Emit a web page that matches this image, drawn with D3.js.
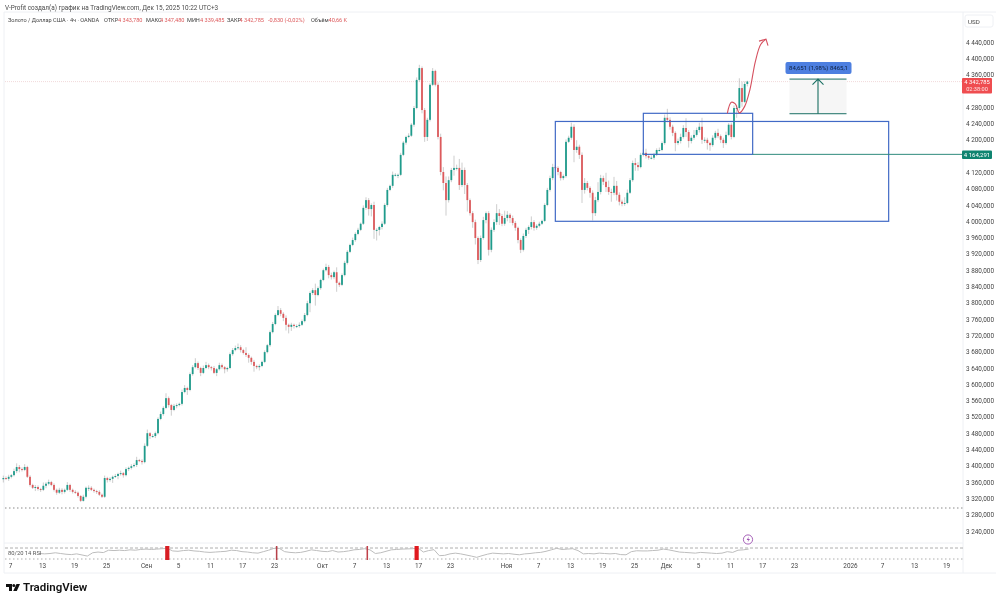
<!DOCTYPE html>
<html>
<head lang="ru">
    <meta charset="UTF-8">
    <title>XAUUSD 4h</title>
    <style>
        html, body { margin: 0; background: #fff; }
        text { font-family: Roboto, "Noto Sans", sans-serif; }
        svg { filter: blur(0.35px); }
    </style>
</head>
<body>
<div id="chart"></div>
<script src="https://cdnjs.cloudflare.com/ajax/libs/d3/7.8.5/d3.min.js"></script>
<script>
// closes of 8h steps, open = previous close
var closes = [
    3370,3368,3373,3377,3387,3397,3392,3390,3397,3373,3353,3346,3348,3343,3341,3351,3356,3360,3353,3341,
    3334,3341,3336,3341,3353,3341,3336,3334,3326,3314,3324,3346,3346,3341,3338,3336,3329,3324,3370,3365,
    3368,3373,3375,3380,3382,3377,3392,3395,3399,3402,3414,3412,3409,3449,3480,3473,3473,3480,3515,3527,
    3542,3566,3549,3537,3547,3549,3552,3581,3591,3586,3625,3642,3652,3640,3628,3640,3647,3642,3640,3628,
    3637,3647,3642,3637,3640,3674,3684,3689,3691,3684,3677,3672,3665,3655,3645,3642,3645,3655,3679,3696,
    3728,3748,3770,3782,3773,3763,3746,3741,3746,3743,3743,3746,3755,3770,3799,3824,3831,3819,3836,3856,
    3880,3888,3868,3863,3875,3849,3844,3868,3898,3925,3942,3954,3969,3979,3994,4033,4052,4030,4040,3979,
    3979,3986,3994,4040,4077,4087,4114,4114,4114,4163,4193,4207,4210,4237,4278,4347,4376,4273,4207,4249,
    4335,4369,4335,4207,4121,4094,4052,4101,4126,4131,4131,4089,4126,4089,4052,4020,3998,3959,3905,3959,
    4003,4020,3930,3979,3998,4020,4013,3994,4008,4016,4008,3996,3984,3954,3930,3964,3979,3986,3998,3984,
    3989,3994,4001,4040,4077,4106,4133,4131,4121,4106,4111,4195,4205,4232,4175,4183,4163,4077,4094,4082,
    4070,4020,4052,4072,4106,4097,4084,4072,4070,4087,4065,4048,4043,4045,4070,4101,4143,4138,4133,4163,
    4168,4160,4156,4156,4163,4175,4175,4192,4254,4249,4232,4217,4192,4197,4207,4229,4219,4197,4205,4212,
    4224,4232,4200,4200,4192,4187,4205,4217,4209,4200,4192,4212,4237,4207,4278,4278,4327,4293,4337,4343
];
var wickUp = [
    6,4,5,3,6,9,5,4,7,3,4,3,5,4,3,8,4,6,3,4,
    3,5,4,3,7,3,3,4,3,2,5,3,6,4,3,3,4,3,6,3,
    4,3,5,3,6,3,4,3,5,4,8,3,4,6,9,3,5,4,4,6,
    4,12,4,3,5,4,3,6,7,3,4,5,12,4,3,6,8,4,3,5,
    3,6,4,3,3,4,5,6,9,5,3,14,4,3,5,3,4,3,4,3,
    4,5,4,10,5,4,6,3,5,3,4,6,4,5,6,4,5,16,4,3,
    4,8,5,6,4,12,3,4,5,4,3,6,4,5,3,6,7,5,4,8,
    4,3,6,4,5,3,8,4,3,5,4,3,6,4,5,6,8,4,5,5,
    4,7,3,6,8,12,16,9,5,30,8,22,18,6,5,4,5,6,4,6,
    8,4,5,6,7,22,10,5,18,9,4,6,5,3,4,6,5,4,14,5,
    4,5,3,4,5,6,8,5,4,3,4,6,5,10,6,16,5,6,12,5,
    4,6,8,24,8,6,22,16,8,22,12,6,5,14,8,5,6,12,7,5,
    8,10,5,6,5,4,6,4,8,22,6,5,4,6,8,7,24,5,6,12,
    6,10,22,6,5,3,6,5,10,4,5,8,4,5,6,8,24,16,6,2
];
var wickDown = [
    8,3,5,4,3,5,8,4,3,3,4,3,8,4,5,3,6,4,3,4,
    5,3,6,4,3,5,4,3,4,3,2,4,8,3,4,5,3,3,3,6,
    4,10,3,8,4,6,3,5,4,3,5,3,6,3,3,7,4,5,3,3,
    4,3,6,14,3,6,3,4,3,12,3,4,3,5,8,3,3,5,6,3,
    8,3,5,10,6,3,4,3,4,6,4,5,12,7,14,5,8,3,3,3,
    4,3,3,3,6,8,14,16,10,6,5,4,3,3,3,22,5,26,3,4,
    3,3,8,6,5,22,5,3,3,4,3,3,4,3,3,3,5,16,18,22,
    26,14,6,3,4,3,5,4,8,3,3,5,3,3,5,3,4,8,12,10,
    4,3,4,6,8,18,38,6,5,14,6,12,5,22,28,6,14,16,10,5,
    4,8,14,6,5,7,22,6,5,8,12,6,7,8,8,4,5,10,6,7,
    5,4,3,3,3,4,5,6,8,6,5,4,3,5,30,7,10,32,9,6,
    12,18,7,5,6,8,12,7,22,6,14,9,6,5,3,3,4,14,9,3,
    4,6,5,4,5,3,4,3,4,6,7,8,20,5,6,4,12,16,6,5,
    4,6,10,8,16,14,4,5,5,8,12,4,3,6,3,24,6,12,3,6
];
var rsiValues = [
    50,48,50,54,50,46,44,48,42,36,54,58,55,68,66,68,66,70,68,72,
    74,72,74,76,78,64,62,66,68,64,62,58,56,58,60,62,68,66,60,58,
    54,52,60,68,78,78,60,56,54,56,62,70,66,62,60,66,58,60,64,70,
    72,76,70,50,54,62,70,72,74,75,76,80,58,66,71,38,40,48,52,48,
    42,36,29,38,46,52,50,48,50,46,43,48,50,54,56,62,70,78,72,74,
    76,66,48,50,48,52,50,48,50,44,43,60,65,64,64,66,68,74,70,64,
    58,56,54,52,56,54,52,50,52,60,56,68,70,74
];
// overbought RSI alerts: first bar and length in bars
var alertBars = [117, 200, 268, 304];
var alertSpans = [3, 1, 1, 3];
var alertColors = ["#d81e24", "#b7414a", "#c0404a", "#e0191f"];

// 4320 and 4160 sit behind the price labels in the picture
var priceTicks = d3.range(3240, 4441, 40).filter(function(v) { return v != 4320 && v != 4160; });
var timeTickDates = ["2025-08-07","2025-08-13","2025-08-19","2025-08-25","2025-09-01","2025-09-05","2025-09-11","2025-09-17","2025-09-23","2025-10-01","2025-10-07","2025-10-13","2025-10-17","2025-10-23","2025-11-03","2025-11-07","2025-11-13","2025-11-19","2025-11-25","2025-12-01","2025-12-05","2025-12-11","2025-12-17","2025-12-23","2026-01-01","2026-01-07","2026-01-13","2026-01-19"];
var timeTickLabels = ["7","13","19","25","Сен","5","11","17","23","Окт","7","13","17","23","Ноя","7","13","19","25","Дек","5","11","17","23","2026","7","13","19"];

var lastPrice = 4342.785, supportLevel = 4164.291;
var boxLarge = {from: 4245, to: 4000, barA: 409, barB: 659};
var boxSmall = {from: 4265, to: 4164.291, barA: 475, barB: 557};
var measureFrom = 4264, measureTo = 4349;

var width = 1000, height = 602;
var teal = "#1f9c8c", red = "#dd5a5c", blue = "#416ac6", darkTeal = "#1a6f63";

var svg = d3.select("#chart").append("svg")
    .attr("width", width)
    .attr("height", height)
    .style("display", "block");

// 4h bars since Aug 7, weekends do not count
var startDay = new Date(Date.UTC(2025, 7, 7));
function barOf(iso) {
    var days = d3.utcDays(startDay, new Date(iso + "T00:00:00Z"));
    return days.filter(function(d) { return d.getUTCDay() % 6 != 0; }).length * 6;
}

var x = d3.scaleLinear().domain([0, 750]).range([10, 1010]);
var y = d3.scaleLinear().domain([3240, 4440]).range([531, 42]);
var rsiY = d3.scaleLinear().domain([20, 80]).range([559, 548]);

function fmt(v) {
    var s = d3.format(".3f")(v).replace(".", ",");
    return s.length > 7 ? s.slice(0, 1) + " " + s.slice(1) : s;
}

// panel frame
svg.append("g").selectAll("line")
    .data([[4,12,996,12],[4,12,4,573],[963,12,963,573],[4,573,996,573],[4,543,963,543]])
    .enter().append("line")
    .attr("x1", function(d) { return d[0]; }).attr("y1", function(d) { return d[1]; })
    .attr("x2", function(d) { return d[2]; }).attr("y2", function(d) { return d[3]; })
    .attr("stroke", "#eef0f4").attr("stroke-width", 1);

// header
svg.append("text").attr("x", 5).attr("y", 9.5).attr("font-size", 6.4).attr("fill", "#4a4a4a")
    .text("V-Profit создал(а) график на TradingView.com, Дек 15, 2025 10:22 UTC+3");

var legendParts = [
    [8, "Золото / Доллар США · 4ч · OANDA", "#444"],
    [104, "ОТКР", "#444"], [118, "4 343,780", red],
    [146, "МАКС", "#444"], [160, "4 347,480", red],
    [187, "МИН", "#444"], [200, "4 339,485", red],
    [227, "ЗАКР", "#444"], [239.5, "4 342,785", red],
    [268, "-0,830 (-0,02%)", red],
    [311, "Объём", "#444"], [328.5, "40,66 K", red]
];
svg.append("g").selectAll("text").data(legendParts).enter().append("text")
    .attr("x", function(d) { return d[0]; }).attr("y", 22)
    .attr("font-size", 5.6).attr("fill", function(d) { return d[2]; })
    .text(function(d) { return d[1]; });

// last price dotted line and the dashed one at the bottom of the pane
svg.append("line").attr("x1", 5).attr("x2", 963).attr("y1", y(lastPrice)).attr("y2", y(lastPrice))
    .attr("stroke", "#eccfd0").attr("stroke-width", 0.8).attr("stroke-dasharray", "1,1");
svg.append("line").attr("x1", 5).attr("x2", 963).attr("y1", 508).attr("y2", 508)
    .attr("stroke", "#8a8a8a").attr("stroke-width", 1).attr("stroke-dasharray", "1.5,2.5");

// candles
var candles = closes.map(function(c, i) {
    var o = i ? closes[i - 1] : c - 3;
    return {bar: i * 2 - 5, o: o, c: c, hi: Math.max(o, c) + wickUp[i], lo: Math.min(o, c) - wickDown[i]};
});
var candle = svg.append("g").selectAll("g").data(candles).enter().append("g");
candle.append("line")
    .attr("x1", function(d) { return x(d.bar); }).attr("x2", function(d) { return x(d.bar); })
    .attr("y1", function(d) { return y(d.hi); }).attr("y2", function(d) { return y(d.lo); })
    .attr("stroke", "#9a9a9a").attr("stroke-opacity", 0.55).attr("stroke-width", 0.9);
candle.append("rect")
    .attr("x", function(d) { return x(d.bar) - 0.9; })
    .attr("width", 1.8)
    .attr("y", function(d) { return y(Math.max(d.o, d.c)); })
    .attr("height", function(d) { return Math.max(1, Math.abs(y(d.o) - y(d.c))); })
    .attr("fill", function(d) { return d.c >= d.o ? teal : red; });

// boxes
[boxLarge, boxSmall].forEach(function(b) {
    svg.append("rect")
        .attr("x", x(b.barA)).attr("width", x(b.barB) - x(b.barA))
        .attr("y", y(b.from)).attr("height", y(b.to) - y(b.from))
        .attr("fill", "none").attr("stroke", blue).attr("stroke-width", 1.2);
});

// support line
svg.append("line").attr("x1", x(boxSmall.barB)).attr("x2", 963)
    .attr("y1", y(supportLevel)).attr("y2", y(supportLevel))
    .attr("stroke", "#2f8b7c").attr("stroke-width", 1);

// projected path
var pathBars = [538, 541, 544, 547, 551, 555, 559, 563, 567];
var pathPrices = [4265, 4292, 4288, 4266, 4282, 4324, 4392, 4434, 4447];
var pathLine = d3.line()
    .x(function(d, i) { return x(pathBars[i]); })
    .y(function(d) { return y(d); })
    .curve(d3.curveCatmullRom);
svg.append("path").attr("d", pathLine(pathPrices))
    .attr("fill", "none").attr("stroke", "#d5505f").attr("stroke-width", 1.1);
var tipX = x(567), tipY = y(4447);
svg.append("path")
    .attr("d", "M" + (tipX - 7) + "," + (tipY + 2) + "L" + tipX + "," + tipY + "L" + (tipX + 2) + "," + (tipY + 6.5))
    .attr("fill", "none").attr("stroke", "#d5505f").attr("stroke-width", 1.1);

// measure tool
var mx1 = 789.5, mx2 = 846.5, mMid = (mx1 + mx2) / 2;
svg.append("rect").attr("x", mx1).attr("width", mx2 - mx1)
    .attr("y", y(measureTo)).attr("height", y(measureFrom) - y(measureTo)).attr("fill", "#f6f6f6");
svg.append("g").selectAll("line").data([measureFrom, measureTo]).enter().append("line")
    .attr("x1", mx1).attr("x2", mx2)
    .attr("y1", function(d) { return y(d); }).attr("y2", function(d) { return y(d); })
    .attr("stroke", darkTeal).attr("stroke-width", 1);
svg.append("path")
    .attr("d", "M" + mMid + "," + y(measureFrom) + "V" + y(measureTo) + "M" + (mMid - 5.5) + "," + (y(measureTo) + 5.5) + "L" + mMid + "," + y(measureTo) + "L" + (mMid + 5.5) + "," + (y(measureTo) + 5.5))
    .attr("fill", "none").attr("stroke", darkTeal).attr("stroke-width", 1.1);
svg.append("rect").attr("x", 785.5).attr("y", 62).attr("width", 66).attr("height", 12).attr("rx", 2).attr("fill", "#4d7fe0");
svg.append("text").attr("x", 818.5).attr("y", 70.3).attr("text-anchor", "middle")
    .attr("font-size", 6).attr("fill", "#10213f").text("84,651 (1,98%) 8465,1");

// RSI pane
svg.append("g").selectAll("line").data([[80, "3,2"], [20, "1.5,2.5"]]).enter().append("line")
    .attr("x1", 5).attr("x2", 963)
    .attr("y1", function(d) { return rsiY(d[0]); }).attr("y2", function(d) { return rsiY(d[0]); })
    .attr("stroke", "#9a9a9a").attr("stroke-width", 0.8)
    .attr("stroke-dasharray", function(d) { return d[1]; });
var rsiLine = d3.line()
    .x(function(d, i) { return x(i * 4 + 22); })
    .y(function(d) { return rsiY(d); });
svg.append("path").attr("d", rsiLine(rsiValues))
    .attr("fill", "none").attr("stroke", "#bdbdbd").attr("stroke-width", 1);
svg.append("g").selectAll("rect").data(alertBars).enter().append("rect")
    .attr("x", function(d) { return x(d) - 0.8; })
    .attr("width", function(d, i) { return alertSpans[i] * 1.33 + 0.2; })
    .attr("y", 546).attr("height", 14)
    .attr("fill", function(d, i) { return alertColors[i]; });
svg.append("text").attr("x", 8).attr("y", 555).attr("font-size", 5.8).attr("fill", "#555").text("80/20 14 RSI");

// lightning badge
svg.append("circle").attr("cx", 748).attr("cy", 539.5).attr("r", 4.6)
    .attr("fill", "#fff").attr("stroke", "#9c4fb0").attr("stroke-width", 0.9);
svg.append("path").attr("d", "M749,536.5L746.6,540H748.5L747.4,542.6L750,539H748.2Z").attr("fill", "#9c4fb0");

// axes
var yAxis = d3.axisRight(y).tickValues(priceTicks).tickSize(0).tickPadding(0).tickFormat(fmt);
var yG = svg.append("g").attr("transform", "translate(966,0)").call(yAxis);
yG.select(".domain").remove();
yG.selectAll("text").attr("font-size", 6.4).attr("fill", "#444").style("font-family", "Roboto, sans-serif");

var xAxis = d3.axisBottom(x)
    .tickValues(timeTickDates.map(barOf))
    .tickSize(0)
    .tickPadding(0)
    .tickFormat(function(d, i) { return timeTickLabels[i]; });
var xG = svg.append("g").attr("transform", "translate(0,563)").call(xAxis);
xG.select(".domain").remove();
xG.selectAll("text").attr("font-size", 6.4).attr("fill", "#444").style("font-family", "Roboto, sans-serif");

// price labels
svg.append("rect").attr("x", 962).attr("y", 78).attr("width", 30).attr("height", 15.5).attr("rx", 1).attr("fill", "#ef4d50");
svg.append("text").attr("x", 977).attr("y", 84).attr("text-anchor", "middle").attr("font-size", 5.8).attr("fill", "#fff").text(fmt(lastPrice));
svg.append("text").attr("x", 977).attr("y", 91.3).attr("text-anchor", "middle").attr("font-size", 5.6).attr("fill", "#ffe3e3").text("02:38:00");
svg.append("rect").attr("x", 962).attr("y", 150.5).attr("width", 30).attr("height", 8.5).attr("rx", 1).attr("fill", "#0f8470");
svg.append("text").attr("x", 977).attr("y", 157).attr("text-anchor", "middle").attr("font-size", 6).attr("fill", "#fff").text(fmt(supportLevel));

// currency box
svg.append("rect").attr("x", 965).attr("y", 15).attr("width", 28).attr("height", 12).attr("rx", 2)
    .attr("fill", "#fff").attr("stroke", "#eef0f4");
svg.append("text").attr("x", 968).attr("y", 23.5).attr("font-size", 6.2).attr("fill", "#444").text("USD");

// logo
var logo = svg.append("g").attr("transform", "translate(6,584)").attr("fill", "#111");
logo.append("path").attr("d", "M0,0H6V7H3V3H0Z");
logo.append("circle").attr("cx", 7.8).attr("cy", 1.5).attr("r", 1.5);
logo.append("path").attr("d", "M10.5,0H14L10.8,7H7.2Z");
svg.append("text").attr("x", 23).attr("y", 591.3).attr("font-size", 11.5).attr("font-weight", 600)
    .attr("fill", "#111").text("TradingView");
</script>
</body>
</html>
